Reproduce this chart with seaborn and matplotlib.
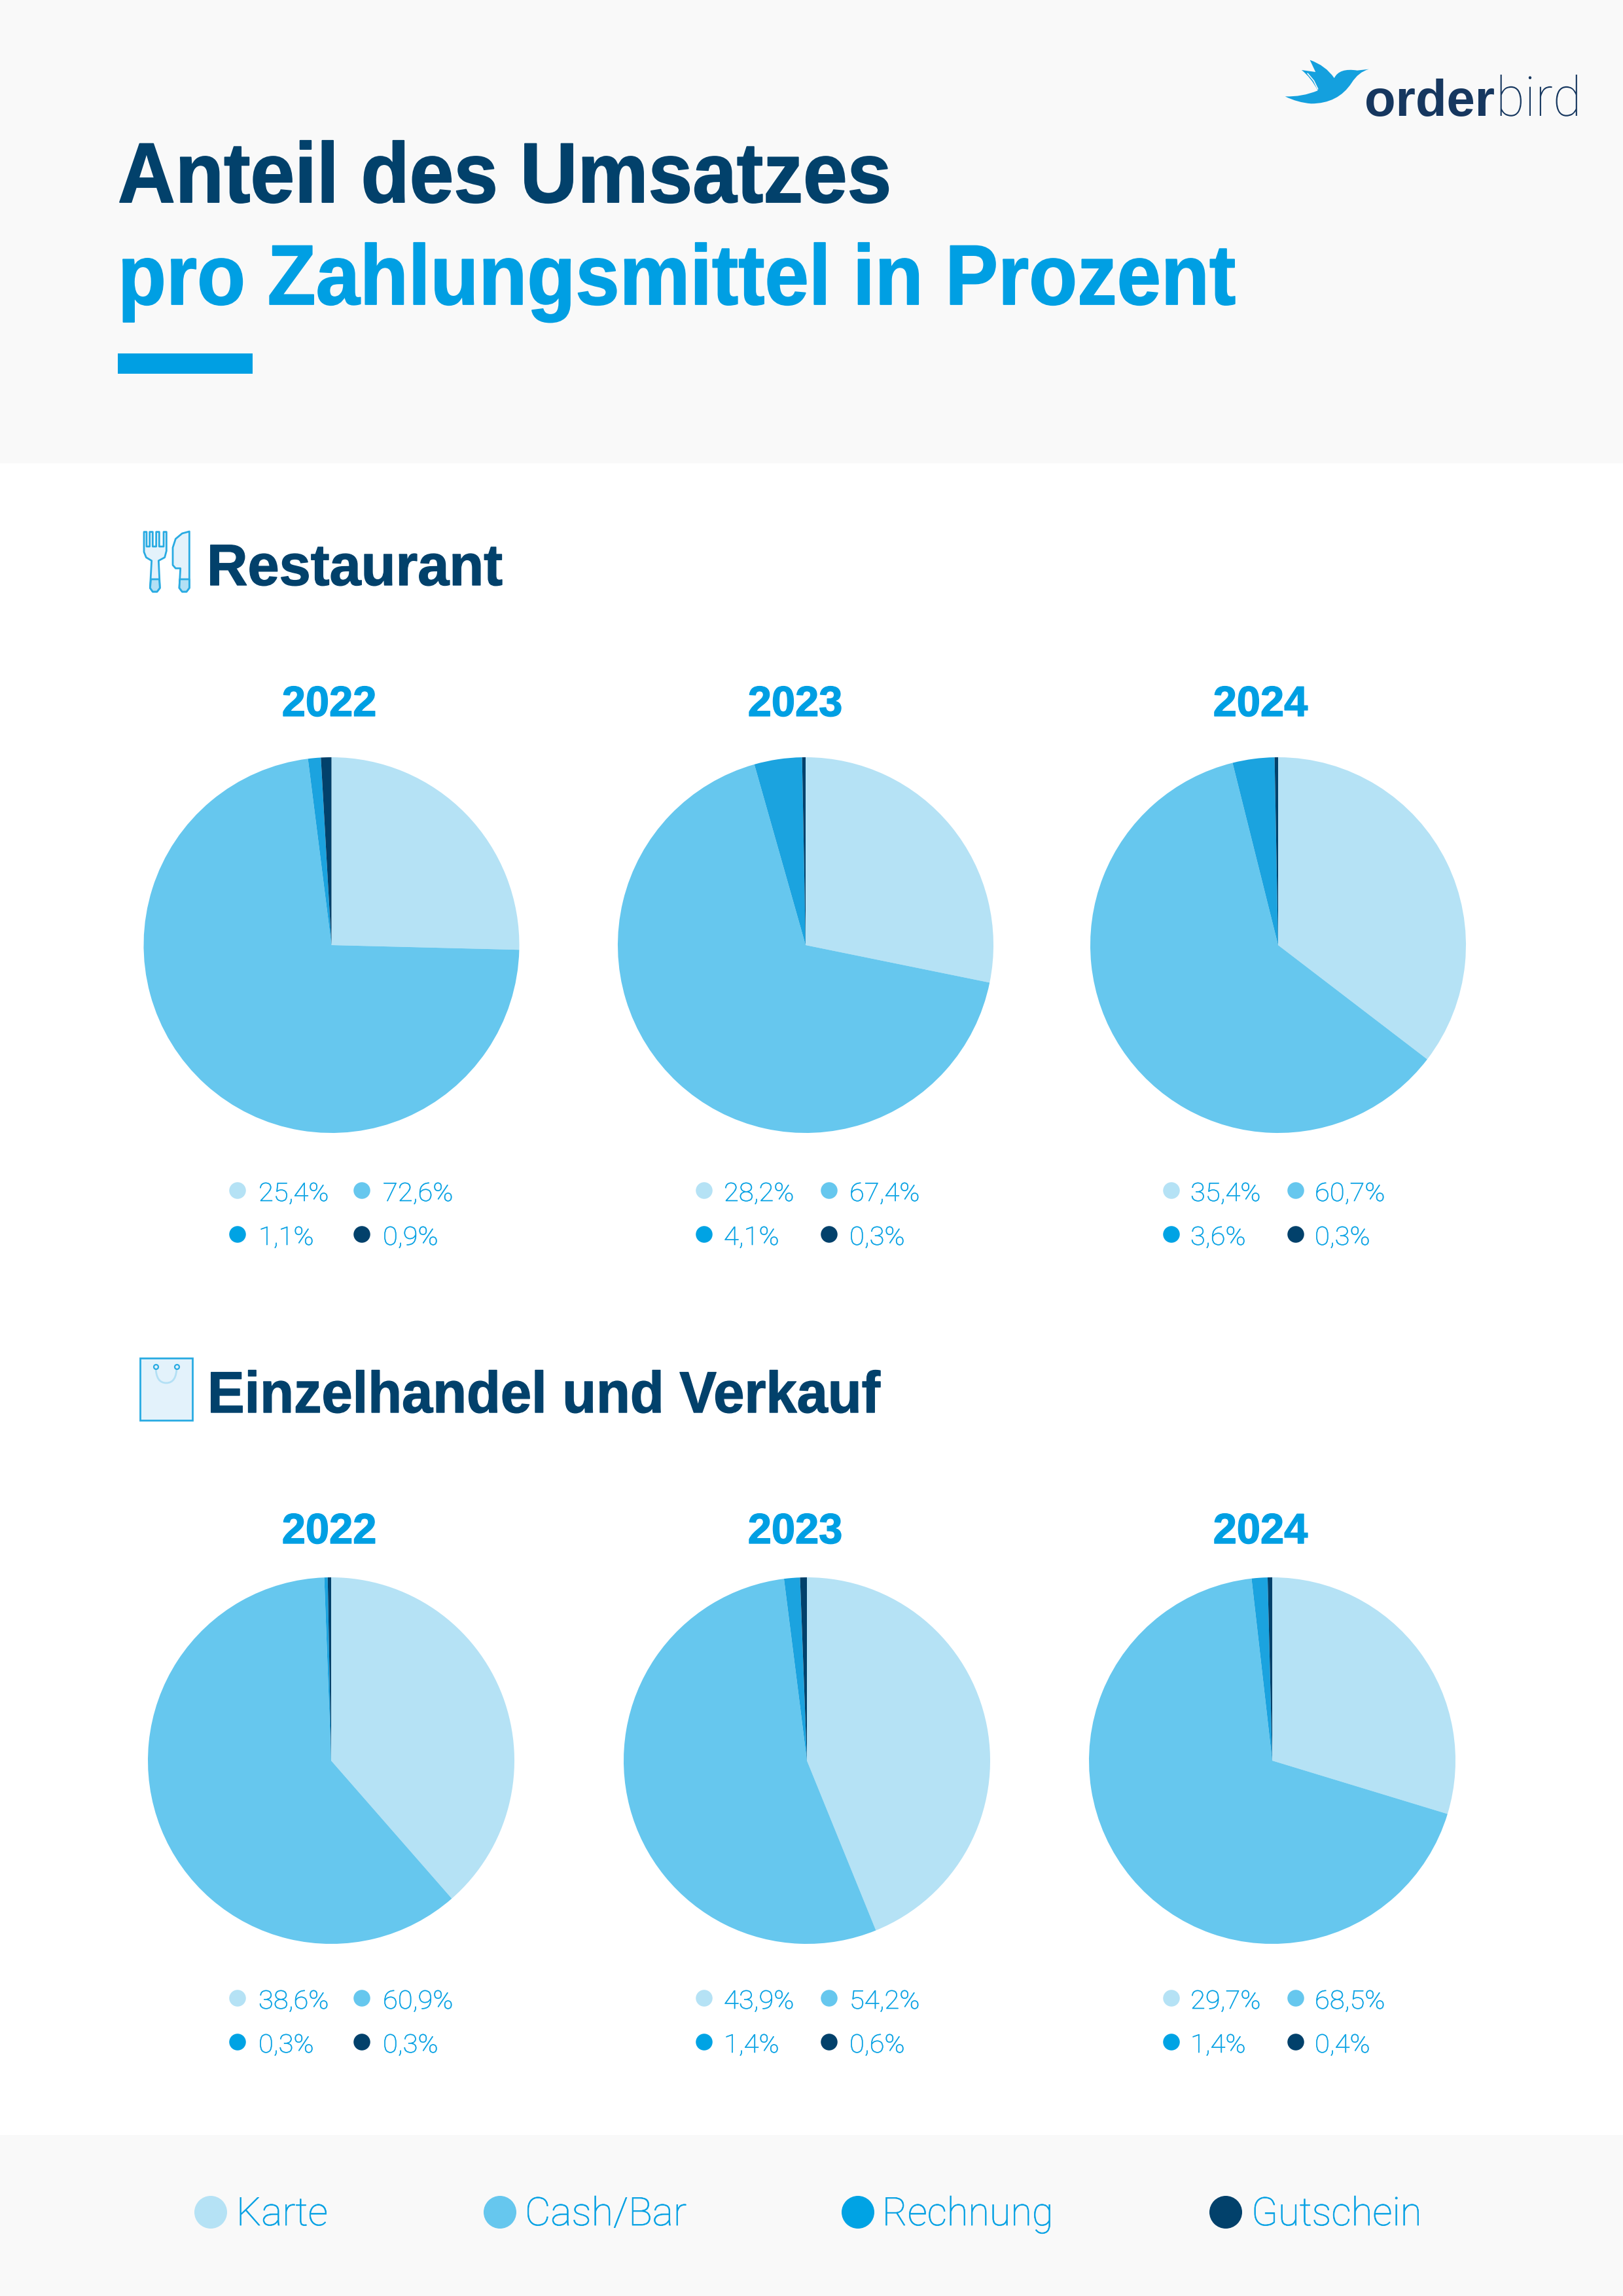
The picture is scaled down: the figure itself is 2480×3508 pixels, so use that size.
import matplotlib
matplotlib.use("Agg")
import matplotlib.pyplot as plt
import matplotlib.patheffects as pe
from matplotlib.patches import Rectangle, Polygon, PathPatch
from matplotlib.path import Path
from matplotlib.transforms import Affine2D
import pandas as pd
import seaborn as sns

# ---------- data ----------
methods = ["Karte", "Cash/Bar", "Rechnung", "Gutschein"]
years = ["2022", "2023", "2024"]
restaurant_2022 = [25.4, 72.6, 1.1, 0.9]
restaurant_2023 = [28.2, 67.4, 4.1, 0.3]
restaurant_2024 = [35.4, 60.7, 3.6, 0.3]
retail_2022 = [38.6, 60.9, 0.3, 0.3]
retail_2023 = [43.9, 54.2, 1.4, 0.6]
retail_2024 = [29.7, 68.5, 1.4, 0.4]

title_line1 = "Anteil des Umsatzes"
title_line2 = "pro Zahlungsmittel in Prozent"
section_names = ["Restaurant", "Einzelhandel und Verkauf"]

# ---------- styles ----------
PIE_COLORS = ["#B5E2F5", "#66C7EE", "#1BA3DF", "#02416B"]
DOT_COLORS = ["#B5E2F5", "#66C7EE", "#00A3E4", "#02416B"]
NAVY = "#02416B"
BLUE = "#009FE3"
BAND = "#F9F9F9"
ICON_LINE = "#29ABE2"
ICON_FILL = "#E3F2FB"
ICON_SOFT = "#B3E0F5"
LIGHT_FONT = "Roboto"
W, H = 2480, 3508

sns.set_theme(style="white")
plt.rcParams["font.family"] = ["Liberation Sans", "DejaVu Sans"]

fig = plt.figure(figsize=(W / 100, H / 100), dpi=100, facecolor="white")
bg = fig.add_axes([0, 0, 1, 1])
bg.set_xlim(0, W)
bg.set_ylim(H, 0)
bg.axis("off")
renderer = fig.canvas.get_renderer()


class Squeeze(pe.AbstractPathEffect):
    """Scale the glyphs about the text start and thicken them a little, keeping the text real."""

    def __init__(self, sx, bolden=0.0):
        super().__init__()
        self.sx = sx
        self.bolden = bolden

    def draw_path(self, renderer, gc, tpath, affine, rgbFace=None):
        x0 = affine.get_matrix()[0, 2]
        squeeze = Affine2D().translate(-x0, 0).scale(self.sx, 1).translate(x0, 0)
        gc0 = renderer.new_gc()
        gc0.copy_properties(gc)
        if self.bolden:
            gc0.set_linewidth(self.bolden)
            gc0.set_foreground(rgbFace)
        renderer.draw_path(gc0, tpath, affine + squeeze, rgbFace)
        gc0.restore()


def put_text(x, y, s, px, color, width=None, sx=None, bolden=0.0, weight="normal", family=None):
    """Left aligned on the baseline, px = font size in pixels."""
    kw = {"family": family} if family else {}
    t = bg.text(x, y, s, fontsize=px * 0.72, color=color, fontweight=weight,
                ha="left", va="baseline", **kw)
    if width is not None:
        sx = width / t.get_window_extent(renderer).width
    if sx is not None:
        t.set_path_effects([Squeeze(sx, bolden)])
    return t


# bands
bg.add_patch(Rectangle((0, 0), W, 708, fc=BAND, ec="none"))
bg.add_patch(Rectangle((0, 3262), W, H - 3262, fc=BAND, ec="none"))

# title
put_text(180, 309, title_line1, 130, NAVY, width=1183, bolden=1.3, weight="bold")
put_text(180, 465, title_line2, 130, BLUE, width=1710, bolden=1.3, weight="bold")
bg.add_patch(Rectangle((180, 540), 206, 31, fc=BLUE, ec="none"))


# logo
def logo_xy(x, y):
    return (1900 + x / 2.904, 60 + y / 3.0)


bird = [(185, 262), (260, 265), (330, 235), (300, 175), (258, 141), (320, 150),
        (295, 95), (365, 120), (403, 178), (425, 130), (505, 143), (557, 137),
        (510, 150), (480, 200), (420, 295), (300, 295), (240, 290), (185, 262)]
codes = [Path.MOVETO, Path.CURVE3, Path.CURVE3, Path.CURVE3, Path.CURVE3, Path.LINETO,
         Path.LINETO, Path.CURVE3, Path.CURVE3, Path.CURVE3, Path.CURVE3, Path.LINETO,
         Path.CURVE3, Path.CURVE3, Path.CURVE3, Path.CURVE3, Path.CURVE3, Path.CURVE3]
bg.add_patch(PathPatch(Path([logo_xy(*p) for p in bird], codes), fc="#14A0DE", ec="none"))
gap = [(285, 157), (312, 190), (330, 228)]
bg.plot(*zip(*[logo_xy(*p) for p in gap]), color=BAND, lw=1.2)
put_text(2085, 177, "order", 78, "#16375F", weight="bold")
put_text(2286, 177, "bird", 84, "#16375F", sx=0.95, weight="light", family=LIGHT_FONT)


# icons
def stroke_poly(points, origin, fc, scale=3.0, lw=2.0, ec=ICON_LINE):
    pts = [(origin[0] + x / scale, origin[1] + y / scale) for x, y in points]
    bg.add_patch(Polygon(pts, closed=True, fc=fc, ec=ec, lw=lw, joinstyle="round"))


icon_o = (200, 780)
fork = [(60, 98), (72, 98), (72, 165), (86, 165), (86, 98), (100, 98), (100, 165), (116, 165),
        (116, 98), (130, 98), (130, 165), (150, 165), (150, 98), (163, 98), (163, 185), (155, 215),
        (127, 230), (133, 355), (120, 372), (100, 372), (88, 355), (95, 230), (70, 215), (60, 190)]
fork_band = [(92, 315), (130, 315), (133, 355), (120, 372), (100, 372), (88, 355)]
knife = [(268, 96), (268, 355), (255, 372), (235, 372), (222, 355), (227, 265), (205, 265),
         (192, 250), (192, 170), (205, 130), (235, 105)]
knife_band = [(224, 315), (268, 315), (268, 355), (255, 372), (235, 372), (222, 355)]
stroke_poly(fork, icon_o, ICON_FILL)
stroke_poly(fork_band, icon_o, ICON_SOFT)
stroke_poly(knife, icon_o, ICON_FILL)
stroke_poly(knife_band, icon_o, ICON_SOFT)

bg.add_patch(Rectangle((214, 2075), 80, 95, fc=ICON_FILL, ec=ICON_LINE, lw=2.0))
handle = Path([(238, 2088), (238, 2113), (254, 2113), (270, 2113), (270, 2088)],
              [Path.MOVETO, Path.CURVE3, Path.CURVE3, Path.CURVE3, Path.CURVE3])
bg.add_patch(PathPatch(handle, fc="none", ec=ICON_SOFT, lw=2.0))
for hx in (238, 270):
    bg.plot([hx], [2088], "o", ms=5, mfc=ICON_FILL, mec=ICON_LINE, mew=1.6)

# section headings
put_text(316, 894, section_names[0], 89, NAVY, width=452, bolden=1.0, weight="bold")
put_text(317, 2158, section_names[1], 89, NAVY, width=1028, bolden=1.0, weight="bold")

# pies
pie_specs = [
    (restaurant_2022, 506.5, 1444, 287), (restaurant_2023, 1231, 1444, 287), (restaurant_2024, 1953, 1444, 287),
    (retail_2022, 506, 2690, 280), (retail_2023, 1233, 2690, 280), (retail_2024, 1944, 2690, 280),
]
for values, cx, cy, r in pie_specs:
    ax = fig.add_axes([(cx - r) / W, 1 - (cy + r) / H, 2 * r / W, 2 * r / H])
    ax.pie(values, colors=PIE_COLORS, startangle=90, counterclock=False, radius=1.0,
           wedgeprops={"linewidth": 0})
    ax.set_xlim(-1, 1)
    ax.set_ylim(-1, 1)
    ax.set_aspect("equal")
    ax.axis("off")

# year labels
year_x = [503, 1215, 1926]
for base_y in (1094, 2358):
    for x, y_label in zip(year_x, years):
        bg.text(x, base_y, y_label, fontsize=65 * 0.72, color=BLUE, fontweight="bold",
                ha="center", va="baseline",
                path_effects=[pe.withStroke(linewidth=1.0, foreground=BLUE)])

# small value legends
col_dots = [(363, 553), (1076, 1267), (1790, 1980)]
col_text = [(395, 585), (1106, 1298), (1819, 2009)]
row_specs = [((1819, 1886), (1835, 1902), (restaurant_2022, restaurant_2023, restaurant_2024)),
             ((3053, 3120), (3069, 3136), (retail_2022, retail_2023, retail_2024))]
dot_rows = []
for dot_ys, text_ys, groups in row_specs:
    for values, dots, texts in zip(groups, col_dots, col_text):
        for i, (method, value) in enumerate(zip(methods, values)):
            dot_rows.append({"x": dots[i % 2], "y": dot_ys[i // 2], "method": method})
            put_text(texts[i % 2], text_ys[i // 2], f"{value:.1f}%".replace(".", ","), 39, BLUE,
                     sx=1.07, bolden=0.5, weight="light", family=LIGHT_FONT)

palette = dict(zip(methods, DOT_COLORS))
sns.scatterplot(data=pd.DataFrame(dot_rows), x="x", y="y", hue="method", palette=palette, ax=bg,
                s=(25.5 * 0.72) ** 2, linewidth=0, legend=False, zorder=5)

# main legend
legend_dots = [322, 764, 1311, 1873]
legend_text = [361, 802, 1348, 1912]
legend_width = [140, 247, 261, 260]
sns.scatterplot(data=pd.DataFrame({"x": legend_dots, "y": [3380] * 4, "method": methods}),
                x="x", y="y", hue="method", palette=palette, ax=bg,
                s=(50 * 0.72) ** 2, linewidth=0, legend=False, zorder=5)
for x, name, w in zip(legend_text, methods, legend_width):
    put_text(x, 3400, name, 60, BLUE, width=w, bolden=0.5, weight="light", family=LIGHT_FONT)

bg.set_xlim(0, W)
bg.set_ylim(H, 0)
bg.set_xlabel("")
bg.set_ylabel("")
fig.savefig("out.png", dpi=100, facecolor="white")
